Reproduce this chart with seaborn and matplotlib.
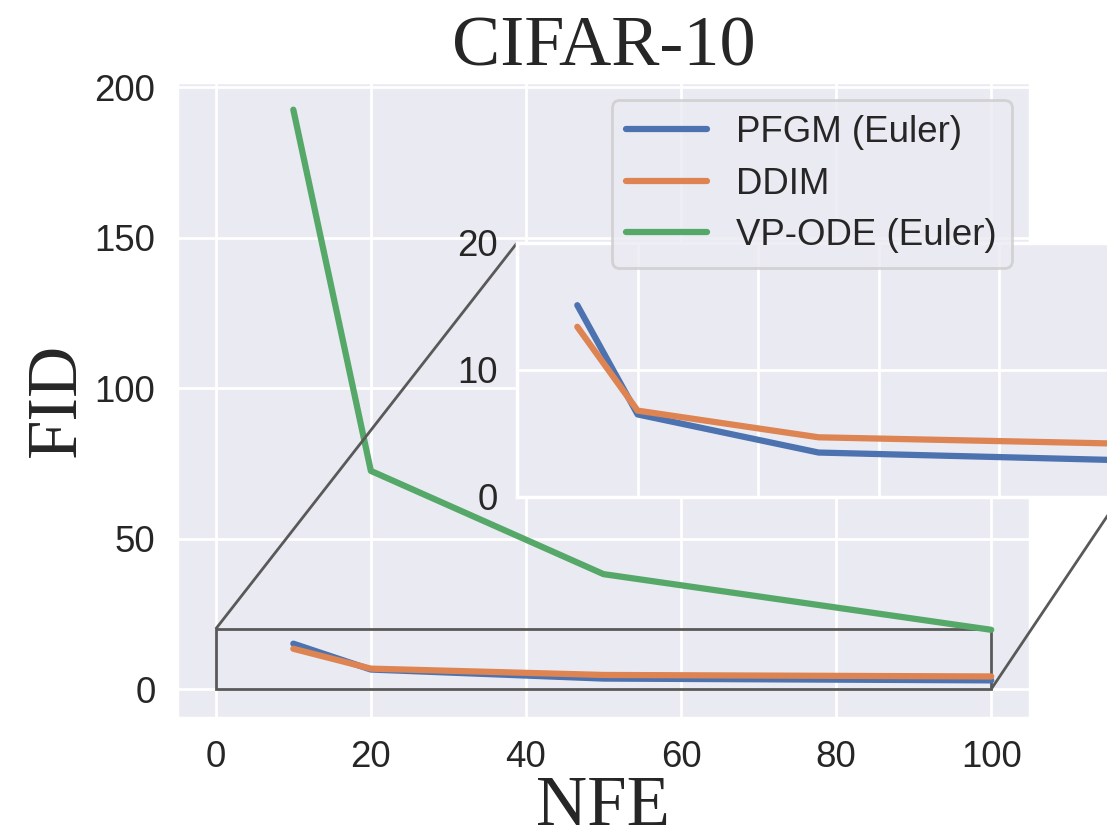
import pandas as pd
import seaborn as sns
import matplotlib
matplotlib.use("Agg")
import matplotlib.pyplot as plt
from mpl_toolkits.axes_grid1.inset_locator import mark_inset

# data
nfe = [10, 20, 50, 100]
pfgm_fid = [15.1, 6.5, 3.5, 2.9]
ddim_fid = [13.4, 6.8, 4.7, 4.2]
vp_ode_fid = [192.5, 72.5, 38.2, 19.7]
methods = ["PFGM (Euler)", "DDIM", "VP-ODE (Euler)"]

rows = []
for name, vals in zip(methods, [pfgm_fid, ddim_fid, vp_ode_fid]):
    for n, v in zip(nfe, vals):
        rows.append({"NFE": n, "FID": v, "method": name})
df = pd.DataFrame(rows)

sns.set_theme(context="poster", style="darkgrid", font_scale=1.2)
plt.rcParams["font.family"] = ["Liberation Sans", "DejaVu Sans"]
serif = ["Liberation Serif", "DejaVu Serif"]

fig = plt.figure(figsize=(11.07, 8.4), dpi=100)
ax = fig.add_axes([177 / 1107, 122 / 840, 853 / 1107, 636 / 840])

palette = sns.color_palette("deep", 3)
sns.lineplot(data=df, x="NFE", y="FID", hue="method", hue_order=methods,
             palette=palette, linewidth=4.5, ax=ax)

# zoomed inset (runs past the right edge of the figure, like the original)
axins = ax.inset_axes([0.3986, 0.3475, 0.707, 0.3994])
sns.lineplot(data=df, x="NFE", y="FID", hue="method", hue_order=methods,
             palette=palette, linewidth=4.5, ax=axins, legend=False)
axins.set_xlim(0, 100)
axins.set_ylim(0, 20)
axins.set_xticks([0, 20, 40, 60, 80, 100])
axins.set_xticklabels([])
axins.set_yticks([0, 10, 20])
axins.set_xlabel("")
axins.set_ylabel("")
axins.tick_params(axis="y", pad=2)

ax.set_xlim(-5, 105)
ax.set_ylim(-9.6, 201.7)
ax.set_xticks([0, 20, 40, 60, 80, 100])
ax.set_yticks([0, 50, 100, 150, 200])

# zoom box + connectors (upper-left and lower-right corners)
box, c1, c2 = mark_inset(ax, axins, loc1=2, loc2=4, fc="none", ec="0.35", lw=2)
c1.set_clip_on(False)
c2.set_clip_on(False)

ax.set_title("CIFAR-10", family=serif, fontsize=52, pad=12)
ax.set_xlabel("NFE", family=serif, fontsize=51, labelpad=0)
ax.set_ylabel("FID", family=serif, fontsize=51, labelpad=3)

handles, labels = ax.get_legend_handles_labels()
leg = ax.legend(handles=handles, labels=labels, loc="upper right",
                handlelength=2.2, labelspacing=0.45)
for line in leg.get_lines():
    line.set_linewidth(4.5)

fig.savefig("out.png", dpi=100)
